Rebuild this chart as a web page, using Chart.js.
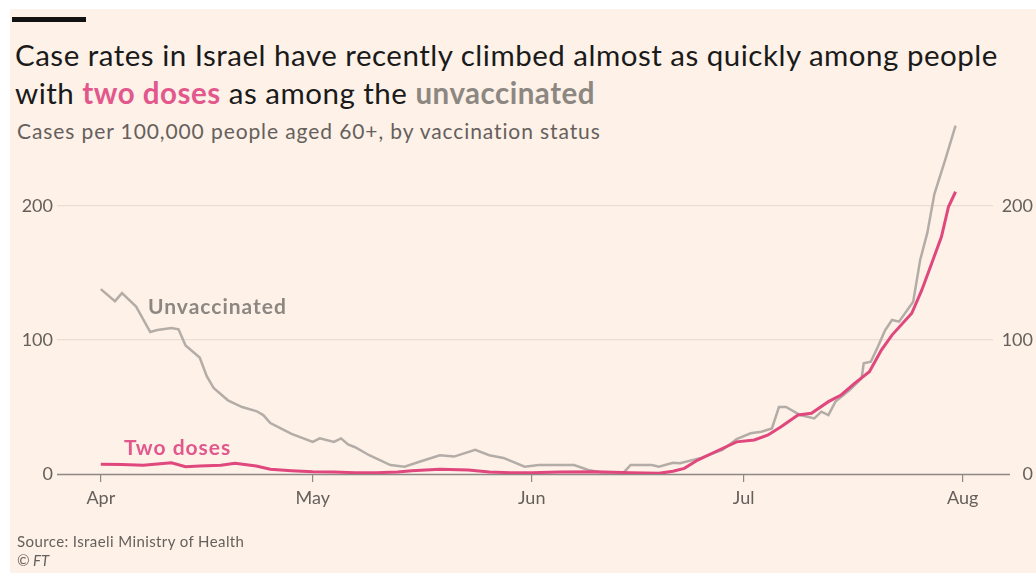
<!DOCTYPE html>
<html>
<head>
<meta charset="utf-8">
<script src="https://cdn.jsdelivr.net/npm/chart.js@4.4.1/dist/chart.umd.min.js"></script>
<style>
  body { margin: 0; width: 1036px; height: 573px; overflow: hidden; background: #fff; font-family: Lato, sans-serif; }
  #panel { position: absolute; left: 10px; top: 9px; right: 0; bottom: 0; background: #fdf1e8; }
  #bar { position: absolute; left: 12px; top: 17px; width: 74px; height: 5px; background: #121212; }
  .t { position: absolute; white-space: nowrap; line-height: 1.2; }
  #title1, #title2 { left: 15px; font-size: 29.5px; letter-spacing: 0.5px; color: #1a1a1a; }
  #title1 { top: 37px; }
  #title2 { top: 75px; }
  .pink { color: #e2588c; font-weight: bold; }
  .grey { color: #8d8782; font-weight: bold; }
  #sub { left: 17px; top: 118px; font-size: 21px; letter-spacing: 0.9px; color: #66605c; }
  #source { left: 17px; top: 532px; font-size: 15px; letter-spacing: 0.4px; color: #66605c; }
  #ft { left: 17px; top: 551px; font-size: 15px; color: #66605c; font-style: italic; }
  #lblUnvax { left: 148px; top: 293px; font-size: 21px; letter-spacing: 1px; font-weight: bold; color: #8d8782; }
  #lblTwo { left: 124px; top: 434px; font-size: 21px; letter-spacing: 1px; font-weight: bold; color: #e2588c; }
  #wrap { position: absolute; left: 0; top: 0; width: 1036px; height: 573px; }
</style>
</head>
<body>
<div id="panel"></div>
<div id="bar"></div>
<div class="t" id="title1">Case rates in Israel have recently climbed almost as quickly among people</div>
<div class="t" id="title2">with <span class="pink">two doses</span> as among the <span class="grey">unvaccinated</span></div>
<div class="t" id="sub">Cases per 100,000 people aged 60+, by vaccination status</div>
<div id="wrap"><canvas id="chartCanvas"></canvas></div>
<div class="t" id="lblUnvax">Unvaccinated</div>
<div class="t" id="lblTwo">Two doses</div>
<div class="t" id="source">Source: Israeli Ministry of Health</div>
<div class="t" id="ft">© FT</div>
<script>
// days counted from 1 April
const unvaxDays = [0, 2, 3, 5, 7, 8, 10, 11, 12, 14, 15, 16, 18, 20, 22, 23, 24, 27, 30, 31, 33, 34, 35, 36, 38, 41, 43, 45, 48, 50, 53, 55, 57, 60, 62, 67, 69, 71, 74, 75, 78, 79, 81, 82, 85, 88, 90, 92, 93.5, 95, 96, 97, 99, 101, 102, 103, 104, 106, 107.7, 108, 109, 110, 111, 112, 113, 115, 116, 117, 118, 119.5, 121];
const unvaxValues = [138, 129, 135, 125, 106, 107.5, 109, 108, 96, 87, 73, 64, 55, 50, 47, 44, 38, 30, 24, 26.6, 24, 26.6, 22, 20, 14, 6.7, 5.5, 9, 14, 13, 18, 14, 12, 5.5, 6.7, 6.7, 3, 1, 1, 6.7, 6.7, 5.5, 8.4, 8, 12, 18, 26, 30.4, 31.6, 34, 50, 50, 44, 41.5, 46.5, 44, 54, 62.7, 71.4, 82.6, 83.8, 95, 107, 115, 113.7, 128.6, 160, 180, 209, 234, 260];

const twoDoseDays = [0, 3, 6, 8, 10, 12, 14, 17, 19, 22, 24, 27, 30, 33, 36, 39, 42, 44, 48, 52, 55, 58, 61, 65, 70, 75, 79, 81, 82.6, 84.5, 87, 90, 92.5, 94.4, 96.3, 98.7, 100.6, 103, 104.8, 106.7, 108.8, 110.5, 112, 114.8, 116.2, 117.6, 119, 120, 121];
const twoDoseValues = [7.2, 7, 6.5, 7.5, 8.4, 5.5, 6, 6.5, 8, 6, 3.5, 2.5, 1.7, 1.5, 1, 1, 1.5, 2.5, 3.5, 3, 1.5, 1, 1, 1.5, 1.7, 1, 0.5, 2, 4.2, 10.4, 16.6, 24, 25.4, 29, 35.3, 44, 45.3, 54, 59, 67.7, 76.3, 92.5, 103.7, 120, 137, 157, 177, 199.5, 210.7];

const monthDays = [0, 30, 61, 91, 122];
const monthLabels = ['Apr', 'May', 'Jun', 'Jul', 'Aug'];
const yTicks = [0, 100, 200];

const toPoints = (days, vals) => days.map((d, i) => ({ x: d, y: vals[i] }));

const baseline = {
    id: 'baseline',
    beforeDatasetsDraw(chart) {
        const { ctx, chartArea, scales } = chart;
        const y = Math.round(scales.y.getPixelForValue(0)) + 0.5;
        ctx.save();
        ctx.strokeStyle = '#8f8884';
        ctx.lineWidth = 1.5;
        ctx.beginPath();
        ctx.moveTo(chartArea.left, y);
        ctx.lineTo(1010, y);
        ctx.stroke();
        ctx.restore();
    }
};

const axisFont = { family: 'Lato, sans-serif', size: 18 };

new Chart(document.getElementById('chartCanvas'), {
    type: 'line',
    data: {
        datasets: [{
            label: 'Two doses',
            data: toPoints(twoDoseDays, twoDoseValues),
            borderColor: '#e0477d',
            borderWidth: 3,
            pointRadius: 0,
            tension: 0,
            order: 0
        }, {
            label: 'Unvaccinated',
            data: toPoints(unvaxDays, unvaxValues),
            borderColor: '#b3aca7',
            borderWidth: 2.5,
            pointRadius: 0,
            tension: 0,
            order: 1
        }]
    },
    options: {
        responsive: true,
        maintainAspectRatio: false,
        animation: false,
        layout: { padding: { top: 119, bottom: 59, left: 0, right: 3 } },
        plugins: { legend: { display: false }, tooltip: { enabled: false } },
        scales: {
            x: {
                type: 'linear',
                min: -6.2,
                max: 126.3,
                afterBuildTicks: s => { s.ticks = monthDays.map(v => ({ value: v })); },
                afterFit: s => { s.height = 40; },
                ticks: {
                    color: '#66605c',
                    font: axisFont,
                    padding: 5,
                    maxRotation: 0,
                    callback: v => monthLabels[monthDays.indexOf(v)]
                },
                grid: { drawOnChartArea: false, drawTicks: true, tickLength: 8, color: '#8f8884', lineWidth: 1.2 },
                border: { display: false }
            },
            y: {
                position: 'left',
                min: 0,
                max: 265,
                afterBuildTicks: s => { s.ticks = yTicks.map(v => ({ value: v })); },
                afterFit: s => { s.width = 57; },
                ticks: { color: '#66605c', font: axisFont, padding: 4 },
                grid: {
                    drawTicks: false,
                    color: c => c.tick && c.tick.value === 0 ? 'rgba(0,0,0,0)' : '#eaded4',
                    lineWidth: 1.2
                },
                border: { display: false }
            },
            y2: {
                position: 'right',
                min: 0,
                max: 265,
                afterBuildTicks: s => { s.ticks = yTicks.map(v => ({ value: v })); },
                afterFit: s => { s.width = 40; },
                ticks: { color: '#66605c', font: axisFont, padding: 8, crossAlign: 'far' },
                grid: { drawOnChartArea: false, drawTicks: false },
                border: { display: false }
            }
        }
    },
    plugins: [baseline]
});
</script>
</body>
</html>
